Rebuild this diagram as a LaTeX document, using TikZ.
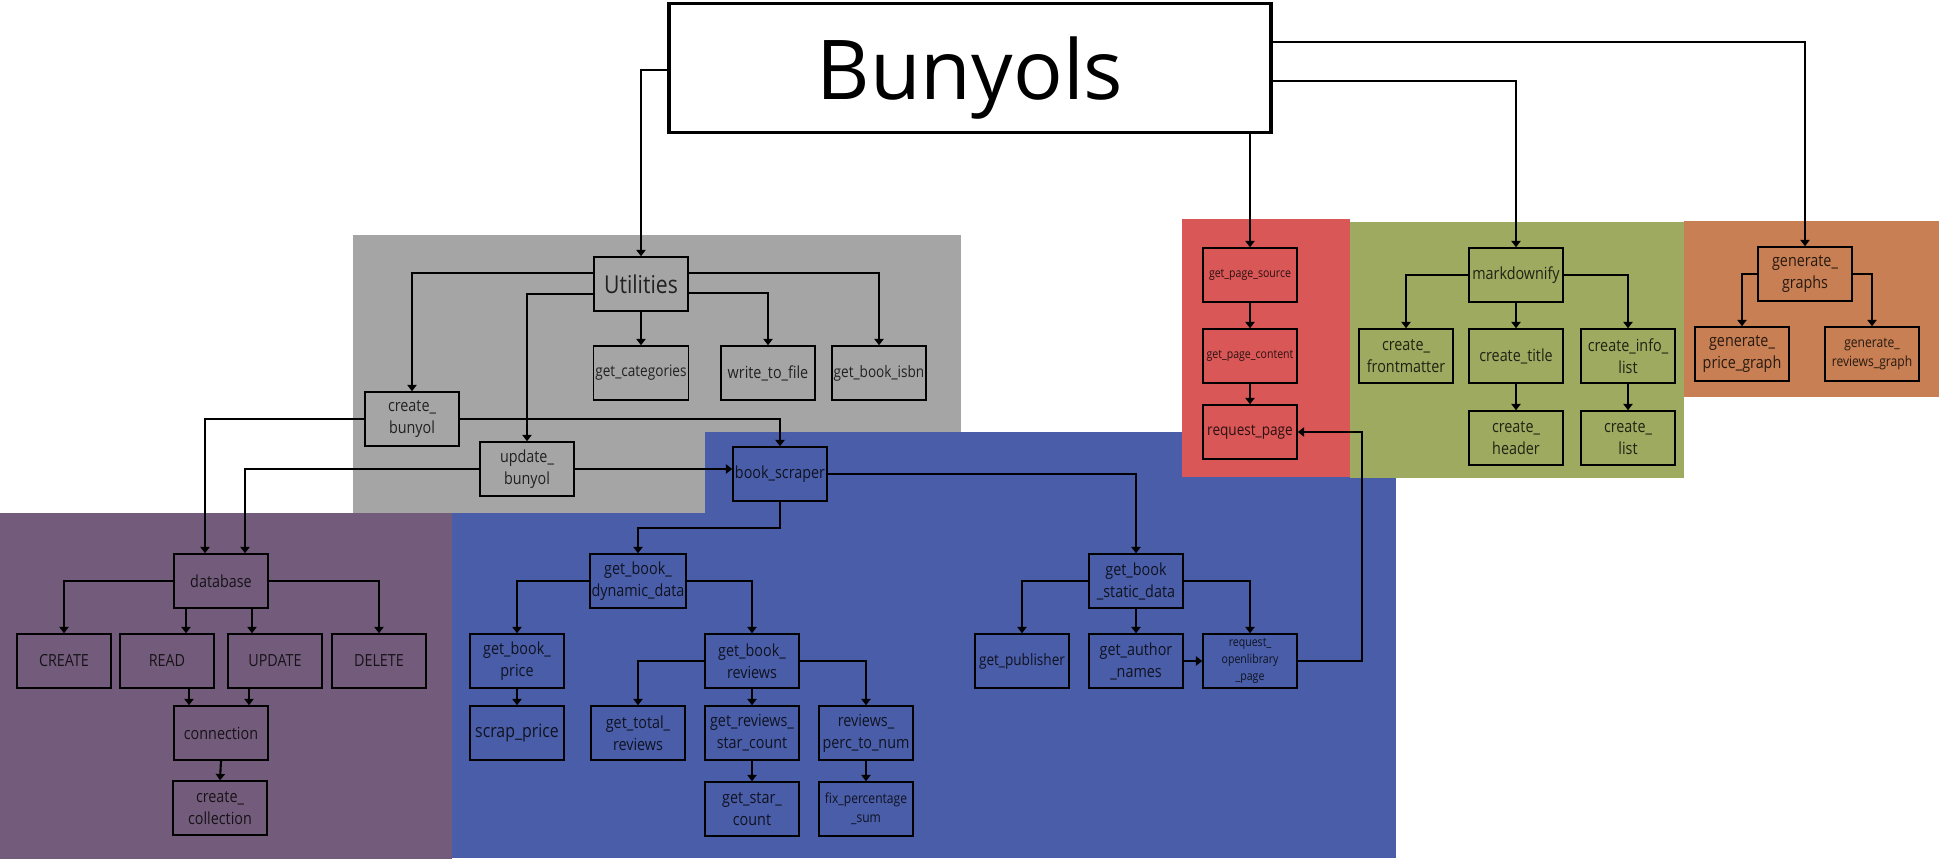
\documentclass[tikz,border=0pt]{standalone}
\usepackage{fontspec}
\setmainfont{Open Sans}
\newfontfamily\labelfont{Open Sans}[FakeStretch=0.86]
\usetikzlibrary{arrows.meta}
\definecolor{utilgray}{HTML}{A5A5A5}
\definecolor{dbpurple}{HTML}{735C7B}
\definecolor{scrapblue}{HTML}{4A5DA8}
\definecolor{pagered}{HTML}{D95757}
\definecolor{mdgreen}{HTML}{9DAA5F}
\definecolor{graphorange}{HTML}{C77F53}
\begin{document}
\begin{tikzpicture}[x=0.02cm,y=-0.02cm,
	func/.style={draw,line width=0.85pt,minimum width=1.88cm,minimum height=1.08cm,inner sep=1pt,align=center,text opacity=0.8,font=\labelfont\fontsize{9.5}{12.5}\selectfont},
	smalltext/.style={font=\labelfont\fontsize{7}{9.5}\selectfont},
	call/.style={line width=1.2pt,-{Triangle[length=3.6pt,width=5.2pt]}}]
			\useasboundingbox (0,0) rectangle (1939,861);

			\fill[utilgray] (353,235) rectangle (961,513);
			\fill[scrapblue] (705,432) rectangle (1396,858);
			\fill[scrapblue] (451,513) rectangle (1396,858);
			\fill[dbpurple] (0,513) rectangle (452,859);
			\fill[pagered] (1182,219) rectangle (1350,477);
			\fill[mdgreen] (1350,222) rectangle (1684,478);
			\fill[graphorange] (1684,221) rectangle (1939,397);

			\node[draw,line width=2pt,minimum width=12.04cm,minimum height=2.58cm,text depth=0pt,font=\fontsize{47}{50}\selectfont] (bunyols) at (970,68) {Bunyols};

			\node[func,font=\labelfont\fontsize{14}{16}\selectfont] (utilities) at (641,284) {Utilities};
			\node[func,font=\labelfont\fontsize{9}{12}\selectfont] (getcategories) at (641,373) {get\_categories};
			\node[func] (writetofile) at (768,373) {write\_to\_file};
			\node[func,font=\labelfont\fontsize{9}{12}\selectfont] (getbookisbn) at (879,373) {get\_book\_isbn};
			\node[func] (createbunyol) at (412,419) {create\_\\bunyol};
			\node[func] (updatebunyol) at (527,469) {update\_\\bunyol};

			\node[func] (database) at (221,581) {database};
			\node[func] (create) at (64,661) {CREATE};
			\node[func] (read) at (167,661) {READ};
			\node[func] (update) at (275,661) {UPDATE};
			\node[func] (delete) at (379,661) {DELETE};
			\node[func] (connection) at (221,733) {connection};
			\node[func] (createcollection) at (220,808) {create\_\\collection};

			\node[func] (bookscraper) at (780,474) {book\_scraper};
			\node[func] (dynamicdata) at (638,581) {get\_book\_\\dynamic\_data};
			\node[func] (bookprice) at (517,661) {get\_book\_\\price};
			\node[func,font=\labelfont\fontsize{10.5}{13}\selectfont] (scrapprice) at (517,733) {scrap\_price};
			\node[func] (bookreviews) at (752,661) {get\_book\_\\reviews};
			\node[func] (totalreviews) at (638,733) {get\_total\_\\reviews};
			\node[func] (starcount) at (752,733) {get\_reviews\_\\star\_count};
			\node[func] (percnum) at (866,733) {reviews\_\\perc\_to\_num};
			\node[func] (getstarcount) at (752,809) {get\_star\_\\count};
			\node[func,font=\labelfont\fontsize{8}{11}\selectfont] (fixsum) at (866,809) {fix\_percentage\\\_sum};
			\node[func] (staticdata) at (1136,581) {get\_book\\\_static\_data};
			\node[func,font=\labelfont\fontsize{9}{12}\selectfont] (publisher) at (1022,661) {get\_publisher};
			\node[func] (authornames) at (1136,661) {get\_author\\\_names};
			\node[func,smalltext] (openlibrary) at (1250,661) {request\_\\openlibrary\\\_page};

			\node[func,smalltext] (pagesource) at (1250,275) {get\_page\_source};
			\node[func,smalltext] (pagecontent) at (1250,356) {get\_page\_content};
			\node[func,font=\labelfont\fontsize{9}{12}\selectfont] (requestpage) at (1250,432) {request\_page};

			\node[func] (markdownify) at (1516,275) {markdownify};
			\node[func] (frontmatter) at (1406,356) {create\_\\frontmatter};
			\node[func] (createtitle) at (1516,356) {create\_title};
			\node[func] (infolist) at (1628,356) {create\_info\_\\list};
			\node[func] (createheader) at (1516,438) {create\_\\header};
			\node[func] (createlist) at (1628,438) {create\_\\list};

			\node[func] (generategraphs) at (1805,274) {generate\_\\graphs};
			\node[func] (pricegraph) at (1742,354) {generate\_\\price\_graph};
			\node[func,font=\labelfont\fontsize{8}{11}\selectfont] (reviewsgraph) at (1872,354) {generate\_\\reviews\_graph};

			\draw[call] (bunyols.west |- 0,70) -| (utilities.north);
			\draw[call] (pagesource.north |- bunyols.south) -- (pagesource.north);
			\draw[call] (bunyols.east |- 0,81) -| (markdownify.north);
			\draw[call] (bunyols.east |- 0,42) -| (generategraphs.north);

			\draw[call] (utilities.west |- 0,273) -| (createbunyol.north);
			\draw[call] (utilities.west |- 0,294) -| (updatebunyol.north);
			\draw[call] (utilities.south) -- (getcategories.north);
			\draw[call] (utilities.east |- 0,293) -| (writetofile.north);
			\draw[call] (utilities.east |- 0,273) -| (getbookisbn.north);

			\draw[call] (createbunyol.west) -| (205,0 |- database.north);
			\draw[call] (updatebunyol.west) -| (245,0 |- database.north);
			\draw[call] (createbunyol.east) -| (bookscraper.north);
			\draw[call] (updatebunyol.east) -- (updatebunyol.east -| bookscraper.west);

			\draw[call] (database.west) -| (create.north);
			\draw[call] (database.south -| 186,0) -- (read.north -| 186,0);
			\draw[call] (database.south -| 252,0) -- (update.north -| 252,0);
			\draw[call] (database.east) -| (delete.north);
			\draw[call] (read.south -| 189,0) -- (connection.north -| 189,0);
			\draw[call] (update.south -| 249,0) -- (connection.north -| 249,0);
			\draw[call] (connection.south) -- (createcollection.north);

			\draw[call] (bookscraper.south) -- (bookscraper.south |- 0,528) -| (dynamicdata.north);
			\draw[call] (bookscraper.east) -| (staticdata.north);
			\draw[call] (dynamicdata.west) -| (bookprice.north);
			\draw[call] (dynamicdata.east) -| (bookreviews.north);
			\draw[call] (bookprice.south) -- (scrapprice.north);
			\draw[call] (bookreviews.west) -| (totalreviews.north);
			\draw[call] (bookreviews.south) -- (starcount.north);
			\draw[call] (bookreviews.east) -| (percnum.north);
			\draw[call] (starcount.south) -- (getstarcount.north);
			\draw[call] (percnum.south) -- (fixsum.north);
			\draw[call] (staticdata.west) -| (publisher.north);
			\draw[call] (staticdata.south) -- (authornames.north);
			\draw[call] (staticdata.east) -| (openlibrary.north);
			\draw[call] (authornames.east) -- (openlibrary.west);
			\draw[call] (openlibrary.east) -- (openlibrary.east -| 1362,0) |- (requestpage.east);

			\draw[call] (pagesource.south) -- (pagecontent.north);
			\draw[call] (pagecontent.south) -- (requestpage.north);

			\draw[call] (markdownify.west) -| (frontmatter.north);
			\draw[call] (markdownify.south) -- (createtitle.north);
			\draw[call] (markdownify.east) -| (infolist.north);
			\draw[call] (createtitle.south) -- (createheader.north);
			\draw[call] (infolist.south) -- (createlist.north);

			\draw[call] (generategraphs.west) -| (pricegraph.north);
			\draw[call] (generategraphs.east) -| (reviewsgraph.north);
\end{tikzpicture}
\end{document}
